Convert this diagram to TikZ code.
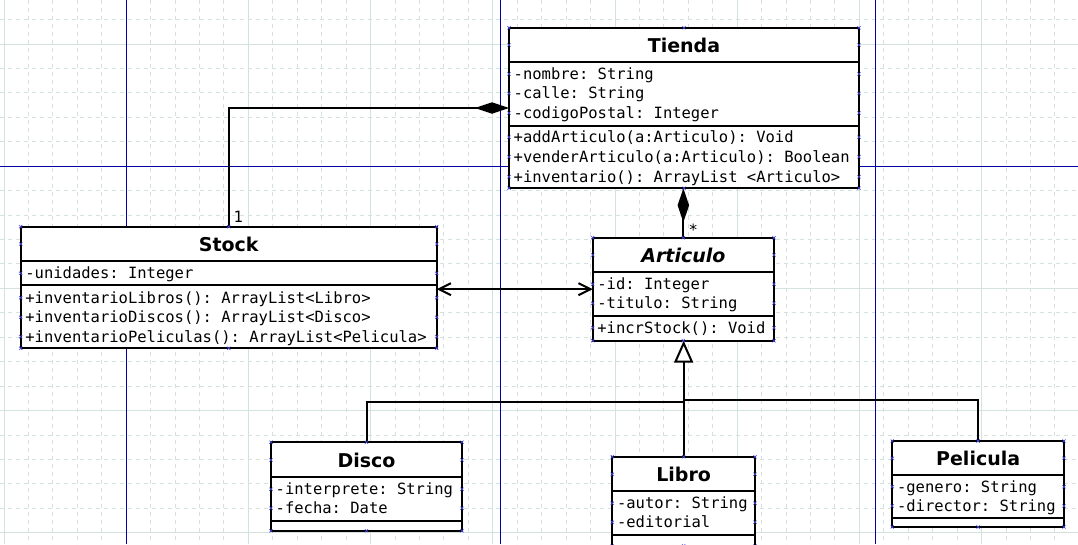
\documentclass[tikz,border=0pt]{standalone}
\usepackage{fontspec}
\setmainfont{DejaVu Sans}
\newfontfamily\monof{DejaVu Sans Mono}
\usetikzlibrary{arrows.meta,calc}
\definecolor{gridc}{RGB}{212,226,223}
\definecolor{pageblue}{RGB}{0,0,165}
\definecolor{handle}{RGB}{70,70,230}
\tikzset{
  classbox/.style={draw=black, fill=white, line width=2pt, inner sep=0pt, outer sep=0pt, anchor=north west},
  ctitle/.style={font=\fontsize{19}{19}\selectfont\bfseries, inner sep=0pt, anchor=base},
  member/.style={font=\monof\fontsize{15.5}{15.5}\selectfont\frenchspacing, inner sep=0pt, anchor=base west},
  sepline/.style={line width=2pt},
  conn/.style={line width=2pt, draw=black},
  comp/.style={conn, -{Diamond[length=34pt,width=11.5pt,fill=black]}},
  assoc/.style={conn, {Straight Barb[length=12pt,width=12pt]}-{Straight Barb[length=12pt,width=12pt]}},
  gen/.style={conn, -{Triangle[length=22pt,width=19pt,fill=white]}},
  minorgrid/.style={draw=gridc, line width=1pt, dash pattern=on 4pt off 4pt},
  majorgrid/.style={draw=gridc, line width=1pt},
  pageline/.style={draw=pageblue, line width=1.2pt},
  handlemark/.style={draw=handle, line width=0.6pt}
}
\newcommand\hmark[2]{\draw[handlemark] ({#1-1.6},{#2-1.6}) -- ({#1+1.6},{#2+1.6}) ({#1-1.6},{#2+1.6}) -- ({#1+1.6},{#2-1.6});}
\newcommand\boxmarks[5]{%
  \foreach \yy in {#3,#4,#5} {\hmark{#1}{\yy}\hmark{#2}{\yy}}
  \hmark{(#1+#2)/2}{#3}\hmark{(#1+#2)/2}{#4}}
\begin{document}
\begin{tikzpicture}[x=1pt,y=-1pt]
\useasboundingbox (0,0) rectangle (1078,544);
\fill[white] (0,0) rectangle (1078,544);
% grid
\foreach \i in {0,...,44} {\draw[minorgrid] ({4+24.44*\i},0) -- ({4+24.44*\i},544);}
\foreach \i in {0,...,22} {\draw[minorgrid] (0,{19.56+24.44*\i}) -- (1078,{19.56+24.44*\i});}
\foreach \i in {0,...,8} {\draw[majorgrid] ({4+122.2*\i},0) -- ({4+122.2*\i},544);}
\foreach \i in {0,...,4} {\draw[majorgrid] (0,{44+122.2*\i}) -- (1078,{44+122.2*\i});}
% page lines
\draw[pageline] (126.7,0) -- (126.7,544);
\draw[pageline] (500.7,0) -- (500.7,544);
\draw[pageline] (875.3,0) -- (875.3,544);
\draw[pageline] (0,166.3) -- (1078,166.3);

% ---------- Tienda
\node[classbox, minimum width=350pt, minimum height=160.6pt] (tienda) at (509,27.7) {};
\draw[sepline] (509,62.3) -- (859,62.3);
\draw[sepline] (509,126.3) -- (859,126.3);
\node[ctitle] (tiendaT) at (684,52.3) {Tienda};
\node[member] (t1) at (513.5,79.4) {-nombre: String};
\node[member] (t2) at (513.5,98.8) {-calle: String};
\node[member] (t3) at (513.5,118.2) {-codigoPostal: Integer};
\node[member] (t4) at (513.5,142.8) {+addArticulo(a:Articulo): Void};
\node[member] (t5) at (513.5,162.3) {+venderArticulo(a:Articulo): Boolean};
\node[member] (t6) at (513.5,182.2) {+inventario(): ArrayList <Articulo>};

% ---------- Stock
\node[classbox, minimum width=416pt, minimum height=121.6pt] (stock) at (20.7,226.7) {};
\draw[sepline] (20.7,261) -- (436.7,261);
\draw[sepline] (20.7,285) -- (436.7,285);
\node[ctitle] (stockT) at (228.7,251.3) {Stock};
\node[member] (s1) at (25.2,278.8) {-unidades: Integer};
\node[member] (s2) at (25.2,303.2) {+inventarioLibros(): ArrayList<Libro>};
\node[member] (s3) at (25.2,322.8) {+inventarioDiscos(): ArrayList<Disco>};
\node[member] (s4) at (25.2,342.2) {+inventarioPeliculas(): ArrayList<Pelicula>};

% ---------- Articulo
\node[classbox, minimum width=181.3pt, minimum height=103pt] (articulo) at (592.7,237.7) {};
\draw[sepline] (592.7,271.7) -- (774,271.7);
\draw[sepline] (592.7,316) -- (774,316);
\node[ctitle, font=\fontsize{19}{19}\selectfont\bfseries\itshape] (articuloT) at (683.35,262.3) {Articulo};
\node[member] (a1) at (597.2,289.8) {-id: Integer};
\node[member] (a2) at (597.2,308.8) {-titulo: String};
\node[member] (a3) at (597.2,333.2) {+incrStock(): Void};

% ---------- Disco
\node[classbox, minimum width=191pt, minimum height=88.4pt] (disco) at (271,442.3) {};
\draw[sepline] (271,476.7) -- (462,476.7);
\draw[sepline] (271,520.7) -- (462,520.7);
\node[ctitle] (discoT) at (366.5,467.3) {Disco};
\node[member] (d1) at (275.5,494.8) {-interprete: String};
\node[member] (d2) at (275.5,513.8) {-fecha: Date};

% ---------- Libro
\node[classbox, minimum width=142.7pt, minimum height=89.3pt] (libro) at (612.3,456.7) {};
\draw[sepline] (612.3,490.7) -- (755,490.7);
\draw[sepline] (612.3,535) -- (755,535);
\node[ctitle] (libroT) at (683.65,481.6) {Libro};
\node[member] (l1) at (616.8,508.8) {-autor: String};
\node[member] (l2) at (616.8,527.8) {-editorial};

% ---------- Pelicula
\node[classbox, minimum width=171.7pt, minimum height=86pt] (pelicula) at (892.3,441) {};
\draw[sepline] (892.3,475) -- (1064,475);
\draw[sepline] (892.3,518.3) -- (1064,518.3);
\node[ctitle] (peliculaT) at (978.15,465.6) {Pelicula};
\node[member] (p1) at (896.8,492.2) {-genero: String};
\node[member] (p2) at (896.8,511.5) {-director: String};

% ---------- connectors
\draw[comp] (stock.north) |- (tienda.west);
\node[member] (one) at ($(stock.north)+(4.8,-4)$) {1};
\draw[comp] (articulo.north) -- (articulo.north |- tienda.south);
\node[member, anchor=base] (many) at ($(articulo.north)+(10,-2)$) {*};
\draw[assoc] (articulo.west -| stock.east) -- (articulo.west);
\draw[gen] (libro.north) -- (libro.north |- articulo.south);
\coordinate (jL) at (libro.north |- 0,401.7);
\coordinate (jR) at (libro.north |- 0,400);
\draw[conn] (disco.north) |- (jL);
\draw[conn] (pelicula.north) |- (jR);

% ---------- handles
\boxmarks{509}{859}{27.7}{188.3}{45,74,93.5,113,137.3,156.7,176.7}
\boxmarks{20.7}{436.7}{226.7}{348.3}{244,273.3,297.7,317.3,336.7}
\boxmarks{592.7}{774}{237.7}{340.7}{255,284.3,303.3,327.7}
\boxmarks{271}{462}{442.3}{530.7}{460,489.3,508.3}
\boxmarks{612.3}{755}{456.7}{546}{474.3,503.3,522.3}
\boxmarks{892.3}{1064}{441}{527}{458.3,486.7,506}
\end{tikzpicture}
\end{document}
